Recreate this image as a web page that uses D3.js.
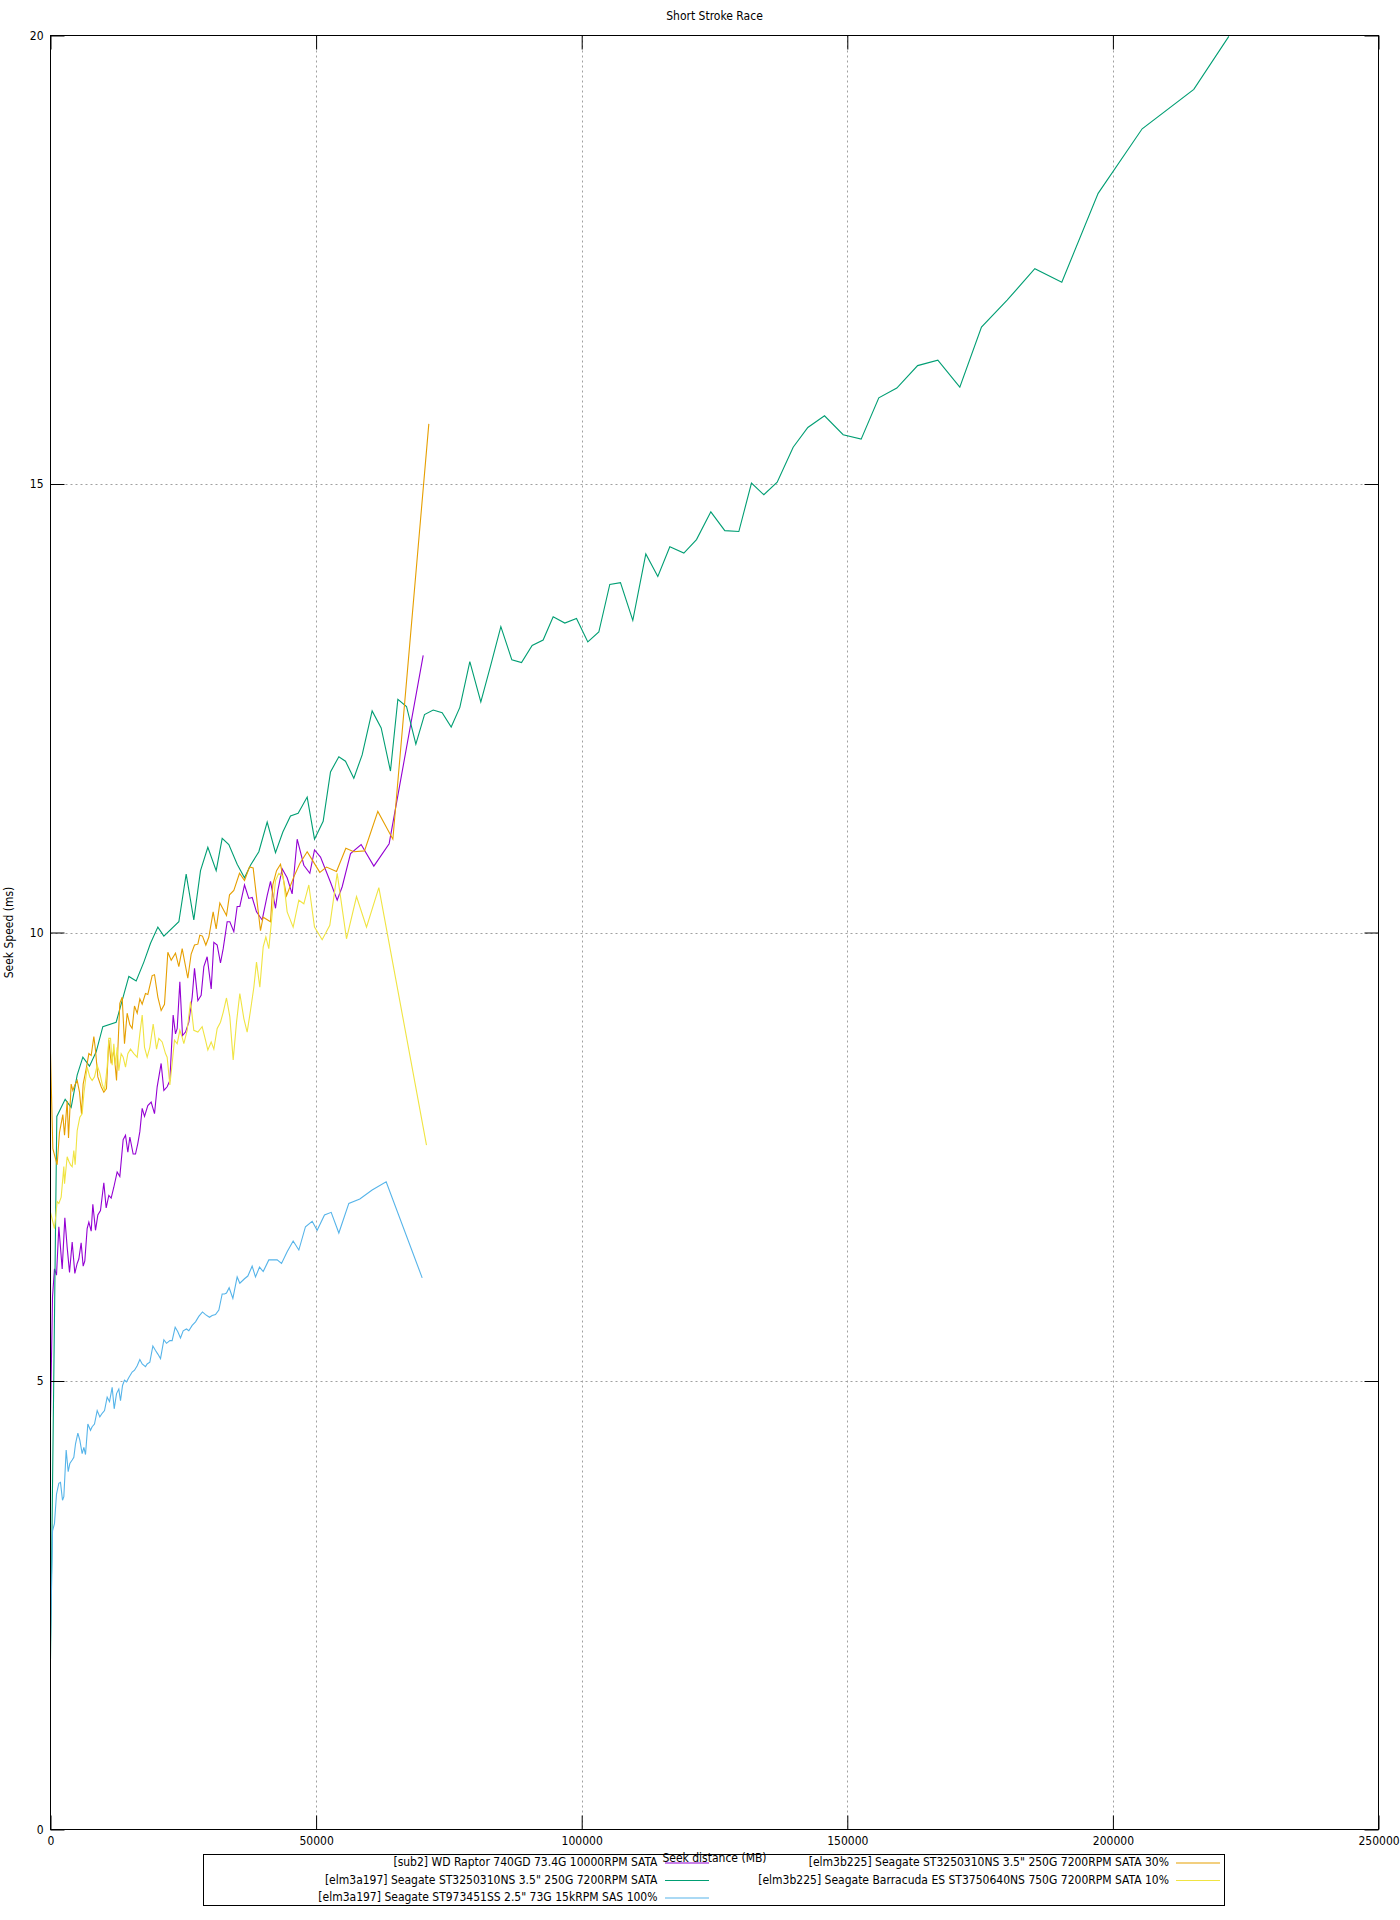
<!DOCTYPE html>
<html><head><meta charset="utf-8">
<script src="https://cdn.jsdelivr.net/npm/d3@7"></script>
<style>
body{margin:0;background:#fff}
text{font-family:"Liberation Sans Narrow","DejaVu Sans Condensed","Noto Sans",sans-serif;font-size:12px;fill:#000}
</style>
</head><body>
<svg id="chart" width="1400" height="1920"></svg>
<script>
const chartTitle = "Short Stroke Race";
const xLabel = "Seek distance (MB)";
const yLabel = "Seek Speed (ms)";
const xTicks = [0, 50000, 100000, 150000, 200000, 250000];
const yTicks = [0, 5, 10, 15, 20];
const seriesNames = [
  "[sub2] WD Raptor 740GD 73.4G 10000RPM SATA",
  "[elm3a197] Seagate ST3250310NS 3.5\" 250G 7200RPM SATA",
  "[elm3a197] Seagate ST973451SS 2.5\" 73G 15kRPM SAS 100%",
  "[elm3b225] Seagate ST3250310NS 3.5\" 250G 7200RPM SATA 30%",
  "[elm3b225] Seagate Barracuda ES ST3750640NS 750G 7200RPM SATA 10%"
];
const seriesColors = ["#9400d3", "#009e73", "#56b4e9", "#e69f00", "#f0e442"];

const raptor = [[0,4.6],[380,5.94],[750,6.25],[1130,6.18],[1570,6.72],[2200,6.25],[2700,6.82],[3140,6.49],[3580,6.21],[4080,6.55],[4580,6.20],[5020,6.31],[5330,6.36],[5770,6.54],[6150,6.28],[6460,6.34],[6900,6.70],[7220,6.77],[7660,6.67],[7970,6.97],[8470,6.68],[8910,6.85],[9410,6.90],[10040,7.21],[10480,6.93],[10980,7.07],[11420,7.04],[11920,7.16],[12550,7.33],[13050,7.28],[13680,7.69],[14120,7.74],[14560,7.55],[14940,7.72],[15560,7.53],[16000,7.53],[16440,7.65],[16820,7.78],[17260,8.04],[17700,7.95],[18320,8.07],[18950,8.11],[19580,7.98],[20080,8.28],[20830,8.54],[21340,8.24],[21960,8.28],[22470,8.35],[23090,9.08],[23530,8.87],[23850,8.93],[24350,9.45],[24850,8.85],[25410,8.89],[26040,9.00],[26670,9.28],[27110,9.60],[27740,9.24],[28360,9.30],[28870,9.62],[29490,9.73],[30250,9.37],[30750,9.89],[31380,9.86],[32000,9.66],[32510,9.82],[33260,10.12],[33760,10.12],[34510,10.01],[35140,10.29],[35640,10.29],[36520,10.53],[37330,10.38],[37970,10.39],[38780,10.23],[39850,10.14],[40790,10.41],[41420,10.57],[42360,10.27],[42800,10.47],[43610,10.71],[44550,10.61],[45490,10.43],[46440,11.04],[47690,10.75],[48820,10.66],[49700,10.92],[50830,10.84],[52710,10.56],[53970,10.36],[54910,10.51],[56480,10.88],[58480,10.98],[60870,10.74],[63750,10.99],[70160,13.09]];

const st3250a197 = [[0,1.9],[1190,7.95],[2760,8.14],[3890,8.05],[5020,8.41],[6090,8.61],[7340,8.51],[8600,8.67],[9850,8.95],[12360,9.00],[14750,9.51],[16130,9.46],[17570,9.67],[18830,9.88],[20210,10.06],[21340,9.96],[24160,10.12],[25540,10.65],[26980,10.14],[28240,10.69],[29620,10.95],[31190,10.69],[32320,11.05],[33570,10.98],[35140,10.76],[36520,10.61],[37650,10.75],[39220,10.90],[40790,11.23],[42360,10.89],[43740,11.12],[45180,11.30],[46620,11.33],[48320,11.51],[49700,11.04],[51330,11.24],[52710,11.79],[54280,11.96],[55530,11.91],[57100,11.72],[58670,11.98],[60550,12.47],[62250,12.28],[64000,11.80],[65390,12.60],[67020,12.52],[68780,12.10],[70410,12.43],[72040,12.48],[73730,12.45],[75430,12.29],[77060,12.51],[78940,13.02],[81010,12.57],[82830,12.97],[84780,13.41],[86850,13.04],[88670,13.01],[90670,13.20],[92740,13.26],[94630,13.52],[96820,13.45],[99020,13.50],[101150,13.24],[103220,13.35],[105290,13.88],[107300,13.90],[109620,13.48],[112070,14.22],[114330,13.97],[116590,14.30],[119230,14.23],[121610,14.38],[124310,14.69],[126940,14.48],[129580,14.47],[131960,15.01],[134290,14.88],[136800,15.02],[139810,15.41],[142570,15.63],[145710,15.76],[149220,15.55],[152610,15.50],[155930,15.96],[159320,16.07],[163240,16.32],[167040,16.38],[171180,16.08],[175260,16.75],[180090,17.05],[185300,17.40],[190380,17.25],[197220,18.24],[205510,18.96],[215230,19.40],[221820,19.99]];

const st973 = [[0,2.1],[310,3.04],[380,3.33],[750,3.41],[1130,3.74],[1570,3.86],[1880,3.87],[2260,3.67],[2510,3.71],[2950,4.23],[3330,3.99],[3640,4.08],[4080,4.12],[4390,4.15],[4710,4.30],[5150,4.42],[5520,4.34],[5960,4.19],[6280,4.26],[6590,4.18],[7030,4.52],[7530,4.45],[7840,4.49],[8280,4.52],[8790,4.67],[9290,4.60],[9730,4.64],[10170,4.67],[10670,4.82],[11110,4.77],[11610,4.93],[11990,4.69],[12430,4.86],[12860,4.91],[13180,4.78],[13560,4.95],[13930,5.01],[14310,4.99],[14750,5.04],[15370,5.10],[15820,5.12],[16320,5.17],[16820,5.24],[17260,5.19],[17880,5.16],[18200,5.19],[18700,5.21],[19270,5.39],[19770,5.34],[20210,5.30],[20710,5.25],[21340,5.46],[21840,5.42],[22470,5.45],[22900,5.45],[23470,5.60],[23970,5.55],[24470,5.48],[24980,5.56],[25600,5.58],[26040,5.56],[26670,5.62],[27300,5.66],[27920,5.72],[28610,5.77],[29180,5.74],[29930,5.71],[30430,5.73],[31060,5.74],[31690,5.79],[32320,5.97],[32760,5.97],[33130,5.98],[33630,6.04],[34330,5.92],[35140,6.16],[35640,6.09],[36520,6.14],[37150,6.17],[37960,6.28],[38590,6.16],[39350,6.27],[40040,6.22],[41100,6.35],[42040,6.35],[42670,6.35],[43490,6.31],[44550,6.44],[45680,6.56],[46750,6.46],[48000,6.72],[49260,6.78],[50200,6.68],[51580,6.85],[52840,6.88],[54280,6.65],[56160,6.98],[58230,7.03],[60550,7.13],[63190,7.22],[69970,6.15]];

const st3250b225 = [[0,8.65],[440,7.59],[1250,7.41],[1690,7.77],[2320,7.97],[2640,7.74],[3140,8.12],[3390,7.71],[3890,8.31],[4200,8.24],[4580,8.30],[5020,8.35],[5460,8.22],[5840,7.98],[6150,8.31],[6780,8.50],[7220,8.65],[7660,8.63],[8160,8.84],[8470,8.69],[8910,8.39],[9540,8.28],[10040,8.22],[10540,8.26],[10980,8.80],[11420,8.54],[11920,8.69],[12430,8.35],[13050,9.21],[13490,9.28],[13930,8.76],[14430,9.10],[14940,8.97],[15370,8.93],[15810,9.18],[16320,9.10],[16820,9.26],[17260,9.20],[17880,9.32],[18320,9.31],[19140,9.52],[19580,9.53],[20210,9.28],[20830,9.13],[21460,9.20],[22090,9.78],[22720,9.69],[23530,9.77],[24160,9.62],[24790,9.82],[25850,9.49],[26480,9.76],[27110,9.86],[27740,9.87],[28110,9.97],[28610,9.96],[29240,9.86],[29810,9.95],[30620,10.23],[31190,10.04],[31880,10.33],[32510,10.26],[33130,10.19],[33700,10.42],[34510,10.47],[35580,10.66],[36520,10.58],[37460,10.73],[38150,10.72],[38780,10.40],[39530,10.02],[40030,10.17],[41420,10.12],[41850,10.53],[42550,10.69],[43300,10.76],[44430,10.41],[45810,10.62],[46940,10.77],[48320,10.90],[48950,10.84],[50700,10.67],[51960,10.73],[53840,10.68],[55600,10.94],[57100,10.90],[59110,10.91],[61620,11.35],[64450,11.04],[71220,15.67]];

const barracuda = [[0,6.88],[750,6.70],[1250,7.00],[1570,6.98],[2010,7.05],[2510,7.39],[2640,7.20],[3140,7.50],[3450,7.45],[3770,7.41],[4080,7.39],[4390,7.57],[4640,7.41],[5020,7.79],[5520,7.94],[5960,7.98],[6280,8.20],[6590,8.35],[6900,8.50],[7400,8.39],[7840,8.35],[8280,8.39],[8790,8.52],[9290,8.43],[9730,8.31],[10170,8.24],[10670,8.50],[10980,8.82],[11300,8.82],[11610,8.52],[11920,8.76],[12240,8.52],[12550,8.72],[12860,8.46],[13300,8.65],[13680,8.61],[14120,8.50],[14560,8.65],[15060,8.70],[15690,8.65],[16320,8.61],[16820,8.87],[17260,9.08],[17700,8.72],[18200,8.61],[18700,8.72],[19330,8.98],[19960,8.70],[20390,8.82],[21020,8.78],[21650,8.65],[21960,8.61],[22470,8.30],[22900,8.54],[23340,8.80],[23850,8.76],[24350,8.91],[24790,8.83],[25100,8.76],[25730,8.91],[26360,9.23],[26980,8.91],[27740,8.89],[28550,8.95],[29180,8.80],[29620,8.69],[30250,8.78],[30750,8.70],[31380,8.93],[32000,9.00],[32510,9.11],[33130,9.27],[33760,9.06],[34390,8.58],[35020,9.00],[35640,9.32],[36400,9.04],[37020,8.89],[37650,9.13],[38280,9.39],[38780,9.67],[39410,9.39],[40040,9.84],[40540,9.95],[41100,9.82],[41730,10.21],[42360,10.58],[42980,10.66],[43800,10.62],[44550,10.23],[45680,10.06],[46750,10.36],[47690,10.32],[48630,10.53],[49700,10.06],[51140,9.92],[52580,10.08],[53970,10.66],[55720,9.93],[57610,10.40],[59490,10.06],[61810,10.50],[70780,7.63]];

const seriesData = [raptor, st3250a197, st973, st3250b225, barracuda];

const svg = d3.select("#chart");
const L = 50.5, R = 1378.5, T = 35.5, B = 1829.5;
const x = d3.scaleLinear().domain([xTicks[0], xTicks[xTicks.length-1]]).range([L, R]);
const y = d3.scaleLinear().domain([yTicks[0], yTicks[yTicks.length-1]]).range([B, T]);
const tickLen = 14;

svg.append("rect").attr("width",1400).attr("height",1920).attr("fill","#fff");

// grid
const grid = svg.append("g").attr("stroke","#a0a0a0").attr("stroke-width",1).attr("stroke-dasharray","2,3");
grid.selectAll("line.gx").data(xTicks.slice(1,-1)).join("line")
  .attr("x1",d=>Math.round(x(d))+0.5).attr("x2",d=>Math.round(x(d))+0.5).attr("y1",T).attr("y2",B);
grid.selectAll("line.gy").data(yTicks.slice(1,-1)).join("line")
  .attr("y1",d=>Math.round(y(d))+0.5).attr("y2",d=>Math.round(y(d))+0.5).attr("x1",L).attr("x2",R);

// series
svg.append("defs").append("clipPath").attr("id","plotclip")
  .append("rect").attr("x",L).attr("y",T).attr("width",R-L).attr("height",B-T);
const line = d3.line().x(d=>x(d[0])).y(d=>y(d[1]));
const plot = svg.append("g").attr("clip-path","url(#plotclip)");
seriesData.forEach((s,i)=>{
  plot.append("path").datum(s).attr("d",line).attr("fill","none")
    .attr("stroke",seriesColors[i]).attr("stroke-width",1.1).attr("stroke-linejoin","miter");
});

// axes with inward ticks
function styleAxis(g){ g.select(".domain").remove(); g.selectAll(".tick line").attr("stroke","#000"); g.selectAll("text").attr("font-size",null).attr("font-family",null); }
svg.append("g").attr("transform",`translate(0,${B})`)
  .call(d3.axisBottom(x).tickValues(xTicks).tickSize(-tickLen).tickPadding(7).tickFormat(d3.format("d")))
  .call(styleAxis);
svg.append("g").attr("transform",`translate(0,${T})`)
  .call(d3.axisTop(x).tickValues(xTicks).tickSize(-tickLen).tickFormat(""))
  .call(styleAxis);
svg.append("g").attr("transform",`translate(${L},0)`)
  .call(d3.axisLeft(y).tickValues(yTicks).tickSize(-tickLen).tickPadding(7).tickFormat(d3.format("d")))
  .call(styleAxis);
svg.append("g").attr("transform",`translate(${R},0)`)
  .call(d3.axisRight(y).tickValues(yTicks).tickSize(-tickLen).tickFormat(""))
  .call(styleAxis);

// frame
svg.append("rect").attr("x",L).attr("y",T).attr("width",R-L).attr("height",B-T)
  .attr("fill","none").attr("stroke","#000").attr("stroke-width",1);

// titles
svg.append("text").attr("x",(L+R)/2).attr("y",16).attr("dy","0.35em").attr("text-anchor","middle").text(chartTitle);
svg.append("text").attr("x",(L+R)/2).attr("y",1858).attr("dy","0.35em").attr("text-anchor","middle").text(xLabel);
svg.append("text").attr("transform",`translate(9,${(T+B)/2}) rotate(-90)`).attr("dy","0.35em").attr("text-anchor","middle").text(yLabel);

// legend
svg.append("rect").attr("x",203.5).attr("y",1854.5).attr("width",1021).attr("height",51)
  .attr("fill","none").attr("stroke","#000").attr("stroke-width",1);
const colText = [657.5, 1169];
const colSample = [[665,709],[1176,1220]];
const rowY = [1862, 1879.5, 1897];
seriesNames.forEach((name,i)=>{
  const c = Math.floor(i/3), r = i%3;
  svg.append("text").attr("x",colText[c]).attr("y",rowY[r]).attr("dy","0.35em").attr("text-anchor","end").text(name);
  svg.append("line").attr("x1",colSample[c][0]).attr("x2",colSample[c][1])
    .attr("y1",rowY[r]+1).attr("y2",rowY[r]+1).attr("stroke",seriesColors[i]).attr("stroke-width",1.1);
});
</script>
</body></html>
